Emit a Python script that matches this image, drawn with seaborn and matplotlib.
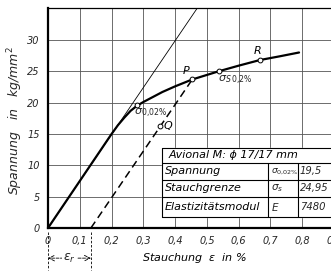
import numpy as np
import pandas as pd
import seaborn as sns
import matplotlib
matplotlib.use('Agg')
import matplotlib.pyplot as plt
import matplotlib.transforms as mtransforms

sns.set_style('white')
plt.rcParams['font.family'] = ['DejaVu Sans']
plt.rcParams['mathtext.fontset'] = 'dejavusans'

# data
strain = [0, 0.1, 0.2, 0.22, 0.24, 0.26, 0.28, 0.30, 0.33, 0.36, 0.40, 0.454, 0.537, 0.6, 0.667, 0.73, 0.79]
stress = [0, 7.5, 15.0, 16.4, 17.6, 18.7, 19.5, 20.1, 20.9, 21.7, 22.6, 23.7, 25.0, 25.9, 26.8, 27.4, 28.0]
elastic_x = [0, 0.47]
elastic_y = [0, 35.1]
offset_x = [0.135, 0.454]
offset_y = [0, 23.7]
pt_names = ['s002', 'Q', 'P', 'sS', 'R']
pt_x = [0.281, 0.353, 0.454, 0.537, 0.667]
pt_y = [19.6, 16.3, 23.7, 25.0, 26.8]
eps_r = 0.135

xticks = [0, 0.1, 0.2, 0.3, 0.4, 0.5, 0.6, 0.7, 0.8, 0.9]
xtick_labels = ['0', '0,1', '0,2', '0,3', '0,4', '0,5', '0,6', '0,7', '0,8', '0,9']
yticks = [0, 5, 10, 15, 20, 25, 30]

tab_title = 'Avional M: ϕ 17/17 mm'
tab_names = ['Spannung', 'Stauchgrenze', 'Elastizitätsmodul']
tab_symbols = [r'$\sigma_{0{,}02\%}$', r'$\sigma_s$', r'$E$']
tab_values = ['19,5', '24,95', '7480']

fig = plt.figure(figsize=(3.31, 2.71), dpi=100)
ax = fig.add_axes([48 / 331, 43 / 271, 286 / 331, 220 / 271])

df = pd.DataFrame({'x': strain, 'y': stress})
sns.lineplot(data=df, x='x', y='y', ax=ax, color='black', lw=1.6, sort=False)
sns.lineplot(x=elastic_x, y=elastic_y, ax=ax, color='black', lw=0.6)
sns.lineplot(x=offset_x, y=offset_y, ax=ax, color='black', lw=1.1, linestyle=(0, (5, 3)))
ax.scatter(pt_x, pt_y, s=12, facecolor='white', edgecolor='black', lw=0.7, zorder=5)

it = dict(style='italic', fontsize=8, color='black')
ax.text(0.27, 18.3, r'$\sigma_{0{,}02\%}$', ha='left', va='center', fontsize=8)
ax.text(0.365, 16.3, 'Q', ha='left', va='center', **it)
ax.text(0.435, 25.0, 'P', ha='center', va='center', **it)
ax.text(0.535, 23.6, r'$\sigma_{S\,0{,}2\%}$', ha='left', va='center', fontsize=8)
ax.text(0.658, 28.2, 'R', ha='center', va='center', **it)

# table
cols = [0.359, 0.693, 0.787, 0.95]
rows = [12.8, 10.4, 7.66, 4.95, 1.75]
ax.fill_between([cols[0], cols[-1]], rows[-1], rows[0], color='white', zorder=3)
for r in rows:
    ax.plot([cols[0], cols[-1]], [r, r], color='black', lw=0.8, zorder=4)
ax.plot([cols[0], cols[0]], [rows[-1], rows[0]], color='black', lw=0.8, zorder=4)
for c in cols[1:3]:
    ax.plot([c, c], [rows[-1], rows[1]], color='black', lw=0.8, zorder=4)
ax.text(cols[0] + 0.02, (rows[0] + rows[1]) / 2, tab_title, ha='left', va='center', zorder=5, **it)
for i in range(3):
    yc = (rows[i + 1] + rows[i + 2]) / 2
    ax.text(cols[0] + 0.008, yc, tab_names[i], ha='left', va='center', zorder=5, **it)
    ax.text(cols[1] + 0.008, yc, tab_symbols[i], ha='left', va='center', zorder=5,
            fontsize=6.5 if i == 0 else 7.5)
    ax.text(cols[2] + 0.006, yc, tab_values[i], ha='left', va='center', zorder=5,
            style='italic', fontsize=7.2)

ax.set_xlim(0, 0.9)
ax.set_ylim(0, 35.1)
ax.set_xticks(xticks)
ax.set_xticklabels(xtick_labels, style='italic', fontsize=7)
ax.set_yticks(yticks)
ax.set_yticklabels([str(v) for v in yticks], style='italic', fontsize=7)
ax.tick_params(length=0, pad=6)
ax.grid(True, color='#555555', lw=0.6)
ax.set_xlabel('')
ax.set_ylabel('')
for s in ['left', 'bottom']:
    ax.spines[s].set_linewidth(1.6)
for s in ['top', 'right']:
    ax.spines[s].set_linewidth(0.9)
for s in ax.spines.values():
    s.set_color('black')

# epsilon_r annotation below the axis
trans = mtransforms.blended_transform_factory(ax.transData, ax.transAxes)
for xv in [0, eps_r]:
    ax.plot([xv, xv], [-0.02, -0.19], transform=trans, color='black', lw=0.6,
            linestyle=(0, (3, 2)), clip_on=False)
ax.annotate('', xy=(0, -0.137), xytext=(eps_r, -0.137), xycoords=trans, textcoords=trans,
            arrowprops=dict(arrowstyle='<->', lw=0.6, linestyle='--', color='black',
                            shrinkA=0, shrinkB=0))
ax.text(eps_r / 2, -0.137, r'$\varepsilon_r$', transform=trans, ha='center', va='center',
        fontsize=9, bbox=dict(facecolor='white', edgecolor='none', pad=0.5))

ax.text(0.46, -0.137, r'Stauchung  $\varepsilon$  in %', transform=trans, ha='center',
        va='center', **it)
ax.text(-0.115, 0.49, r'Spannung   in   kg/mm$^2$', transform=ax.transAxes, rotation=90,
        ha='center', va='center', style='italic', fontsize=9)

fig.savefig('out.png', dpi=100, facecolor='white')
